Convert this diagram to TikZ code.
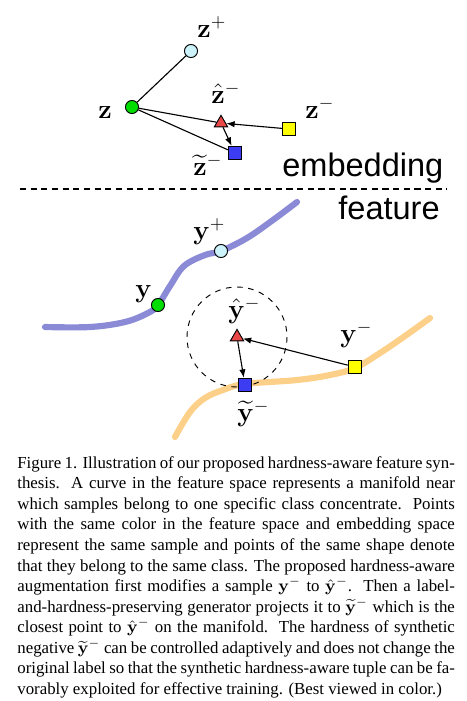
\documentclass[tikz,border=0pt]{standalone}
\usepackage[no-math]{fontspec}
\setmainfont{Liberation Serif}
\newfontfamily\spacefont{Liberation Sans}
\usepackage{amsmath, amssymb}
\usepackage{tikz}
\usetikzlibrary{
  shapes.geometric, arrows.meta, positioning, calc
}
\usepackage{xcolor}
\definecolor{anchorgreen}{HTML}{00DD00}
\definecolor{posblue}{HTML}{CCF2FA}
\definecolor{hatred}{HTML}{E84848}
\definecolor{tilblue}{HTML}{3C3CF2}
\definecolor{negyellow}{HTML}{FFFF00}
\definecolor{classA}{HTML}{8A8AD6}
\definecolor{classB}{HTML}{FDD08A}
\tikzset{
  dot/.style={
    circle, draw=black, line width=0.5pt, fill=#1,
    minimum size=7pt, inner sep=0pt
  },
  sq/.style={
    rectangle, draw=black, line width=0.5pt, fill=#1,
    minimum size=7.2pt, inner sep=0pt
  },
  tri/.style={
    regular polygon, regular polygon sides=3, draw=black, line width=0.5pt,
    fill=#1, minimum size=8.2pt, inner sep=0pt
  },
  sym/.style={
    inner sep=0pt, anchor=base west, font=\fontsize{14.4}{17}\selectfont
  },
  space/.style={
    inner sep=0pt, anchor=base west, font=\spacefont\fontsize{17.4}{20}\selectfont
  }
}

\begin{document}
\begin{tikzpicture}[
  x=0.5348pt, y=-0.5348pt,
  link/.style={line width=0.6pt, black},
  push/.style={-{Latex[length=4.5pt, width=3.4pt]}, line width=0.6pt, black},
  manifold/.style={line width=3.3pt, line cap=round, color=#1},
]
  \useasboundingbox (0,0) rectangle (467,701);

  % Embedding space
  \node[dot=posblue]     (zpos) at (191,51)  {};
  \node[dot=anchorgreen] (zanc) at (132,107) {};
  \node[tri=hatred]      (zhat) at (221,123) {};
  \node[sq=negyellow]    (zneg) at (289,129) {};
  \node[sq=tilblue]      (ztil) at (235,153) {};

  \node[sym] (lzpos) at (197,37)  {$\mathbf{z}^+$};
  \node[sym] (lzanc) at (98,118)  {$\mathbf{z}$};
  \node[sym] (lzhat) at (211,103) {$\hat{\mathbf{z}}^-$};
  \node[sym] (lzneg) at (305,118) {$\mathbf{z}^-$};
  \node[sym] (lztil) at (193,175) {$\widetilde{\mathbf{z}}^-$};

  \draw[link] (zanc) -- (zpos);
  \draw[link] (zanc) -- (zhat);
  \draw[link] (zanc) -- (ztil);
  \draw[push] (zneg) -- (zhat);
  \draw[push] (zhat) -- (ztil);

  % Separator
  \node[space] (lemb) at (282,176) {embedding};
  \node[space] (lfea) at (338,219) {feature};
  \draw[dash pattern=on 3.3pt off 2.4pt, line width=0.6pt] (20,189) -- (447,189);

  % Feature space: class manifolds
  \draw[manifold=classA] plot[smooth, tension=0.6] coordinates {
    (45,327) (90,327) (125,322) (148,313) (158,305) (170,286)
    (184,266) (205,255) (221,251) (247,238) (273,220) (297,202)};
  \draw[manifold=classB] plot[smooth, tension=0.6] coordinates {
    (175,437) (190,412) (205,398) (223,390) (245,384) (297,380)
    (330,375) (355,368) (380,353) (405,336) (430,318)};

  \draw[dashed, line width=0.5pt] (237,337) circle[radius=50];

  \node[dot=posblue]     (ypos) at (221,251) {};
  \node[dot=anchorgreen] (yanc) at (158,305) {};
  \node[tri=hatred]      (yhat) at (237,337) {};
  \node[sq=negyellow]    (yneg) at (355,367) {};
  \node[sq=tilblue]      (ytil) at (245,385) {};

  \node[sym] (lypos) at (193,239) {$\mathbf{y}^+$};
  \node[sym] (lyanc) at (135,297) {$\mathbf{y}$};
  \node[sym] (lyhat) at (228,318) {$\hat{\mathbf{y}}^-$};
  \node[sym] (lyneg) at (340,342) {$\mathbf{y}^-$};
  \node[sym] (lytil) at (237,421) {$\widetilde{\mathbf{y}}^-$};

  \draw[push] (yneg) -- (yhat);
  \draw[push] (yhat) -- (ytil);

  % Caption
  \node[inner sep=0pt, anchor=north west, text width=234pt, align=justify,
        font=\fontsize{9}{11}\selectfont] (cap) at (17,456) {%
    Figure 1. Illustration of our proposed hardness-aware feature syn-\linebreak
    thesis.\ \ A curve in the feature space represents a manifold near\linebreak
    which samples belong to one specific class concentrate.\ \ Points\linebreak
    with the same color in the feature space and embedding space\linebreak
    represent the same sample and points of the same shape denote\linebreak
    that they belong to the same class. The proposed hardness-aware\linebreak
    augmentation first modifies a sample $\mathbf{y}^-$ to $\hat{\mathbf{y}}^-$.\ \ Then a label-\linebreak
    and-hardness-preserving generator projects it to $\widetilde{\mathbf{y}}^-$ which is the\linebreak
    closest point to $\hat{\mathbf{y}}^-$ on the manifold.\ \ The hardness of synthetic\linebreak
    negative $\widetilde{\mathbf{y}}^-$ can be controlled adaptively and does not change the\linebreak
    original label so that the synthetic hardness-aware tuple can be fa-\linebreak
    vorably exploited for effective training. (Best viewed in color.)};
\end{tikzpicture}
\end{document}
